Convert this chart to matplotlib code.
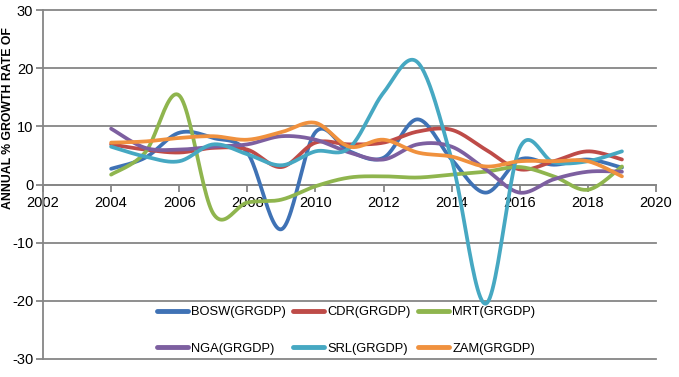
import numpy as np
import matplotlib
matplotlib.use("Agg")
from matplotlib import pyplot as plt

plt.rcParams['font.family'] = ['Liberation Sans', 'DejaVu Sans']
plt.rcParams['axes.unicode_minus'] = False

years = list(range(2004, 2020))
series_names = ['BOSW(GRGDP)', 'CDR(GRGDP)', 'MRT(GRGDP)', 'NGA(GRGDP)', 'SRL(GRGDP)', 'ZAM(GRGDP)']
bosw = [2.7, 4.6, 8.9, 8.0, 5.5, -7.7, 9.0, 5.7, 4.6, 11.2, 4.3, -1.4, 4.3, 3.4, 4.3, 2.9]
cdr = [6.9, 6.0, 5.5, 6.3, 6.0, 3.0, 7.2, 6.9, 7.2, 9.1, 9.4, 6.0, 2.6, 4.0, 5.7, 4.3]
mrt = [1.7, 5.5, 15.3, -5.0, -3.1, -2.6, -0.3, 1.2, 1.4, 1.2, 1.7, 2.2, 3.0, 1.4, -0.9, 3.1]
nga = [9.6, 6.3, 6.0, 6.5, 6.9, 8.3, 7.7, 5.5, 4.3, 6.9, 6.5, 2.6, -1.4, 0.9, 2.2, 2.2]
srl = [6.5, 4.8, 4.0, 6.9, 5.2, 3.3, 5.7, 6.3, 15.8, 21.0, 4.3, -20.5, 6.3, 3.8, 4.0, 5.7]
zam = [7.2, 7.4, 8.0, 8.3, 7.7, 9.0, 10.6, 6.5, 7.7, 5.5, 4.8, 3.1, 4.0, 4.0, 4.0, 1.4]
colors = ['#3F72B5', '#BE4B48', '#8FB54E', '#7D5FA0', '#46A8C2', '#F0913E']


def smooth(x, y, n=25):
    # Excel-style smoothed line (Catmull-Rom through the points)
    p = np.column_stack([x, y]).astype(float)
    p = np.vstack([p[0], p, p[-1]])
    out = []
    t = np.linspace(0, 1, n, endpoint=False)[:, None]
    for i in range(1, len(p) - 2):
        p0, p1, p2, p3 = p[i - 1], p[i], p[i + 1], p[i + 2]
        seg = 0.5 * ((2 * p1) + (-p0 + p2) * t + (2 * p0 - 5 * p1 + 4 * p2 - p3) * t ** 2
                     + (-p0 + 3 * p1 - 3 * p2 + p3) * t ** 3)
        out.append(seg)
    out.append(p[-2][None, :])
    out = np.vstack(out)
    return out[:, 0], out[:, 1]


fig = plt.figure(figsize=(6.79, 3.77), dpi=100)
ax = fig.add_axes([43 / 679, 1 - 359 / 377, (656 - 43) / 679, (359 - 10) / 377])

grey = '#868686'
lines = {}
for name, vals, c in zip(series_names, [bosw, cdr, mrt, nga, srl, zam], colors):
    sx, sy = smooth(years, vals)
    lines[name], = ax.plot(sx, sy, color=c, lw=2.7, label=name, solid_capstyle='round', zorder=3)

ax.set_xlim(2002, 2020)
ax.set_ylim(-30, 30)
ax.set_xticks(range(2002, 2021, 2))
ax.set_yticks(range(-30, 31, 10))
ax.yaxis.grid(True, color=grey, lw=1.3)
for gl in ax.get_ygridlines():
    gl.set_clip_on(False)
ax.set_axisbelow(True)

ax.spines['right'].set_visible(False)
ax.spines['top'].set_visible(False)
ax.spines['left'].set_color(grey)
ax.spines['left'].set_linewidth(1.3)
ax.spines['bottom'].set_position(('data', 0))
ax.spines['bottom'].set_color(grey)
ax.spines['bottom'].set_linewidth(1.3)
ax.tick_params(axis='both', colors=grey, width=1.3, length=5, labelsize=10.5, labelcolor='black')
ax.tick_params(axis='y', pad=2)
ax.tick_params(axis='x', pad=3)

fig.text(8 / 679, 1 - 118 / 377, 'ANNUAL % GROWTH RATE OF', rotation=90, fontsize=8.8,
         fontweight='bold', ha='center', va='center')

# legend filled row by row like Excel
order = ['BOSW(GRGDP)', 'NGA(GRGDP)', 'CDR(GRGDP)', 'SRL(GRGDP)', 'MRT(GRGDP)', 'ZAM(GRGDP)']
leg = ax.legend([lines[k] for k in order], order, ncol=3, loc='upper left',
                bbox_to_anchor=((157 - 43) / (656 - 43), (359 - 306) / 349),
                frameon=False, fontsize=9.3, handlelength=2.4, handletextpad=0.25,
                columnspacing=0.55, labelspacing=1.9, borderpad=0, borderaxespad=0)
for h in leg.legend_handles:
    h.set_linewidth(3.5)

fig.savefig('out.png', dpi=100)
